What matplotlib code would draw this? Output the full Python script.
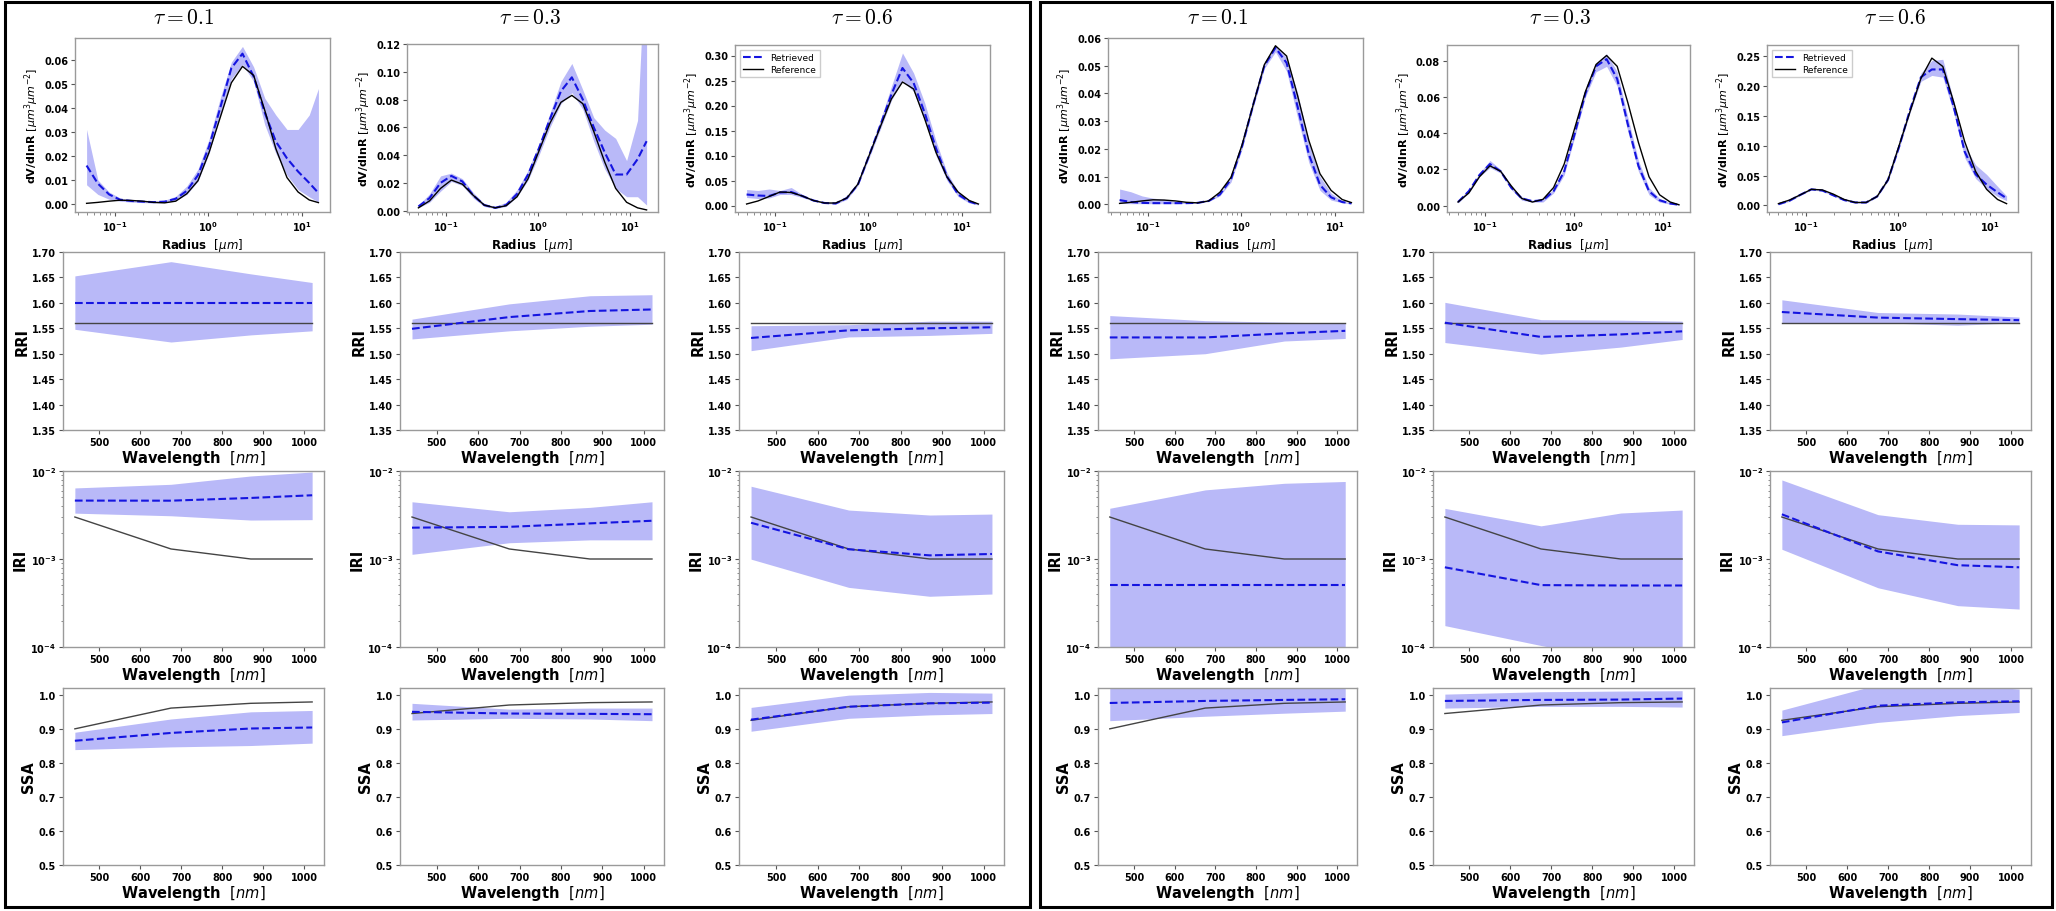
import matplotlib
matplotlib.use('Agg')
import matplotlib.pyplot as plt
from matplotlib.ticker import MultipleLocator, FormatStrFormatter, FuncFormatter
from matplotlib.patches import Rectangle
import numpy as np

plt.rcParams['font.family'] = ['DejaVu Sans']
plt.rcParams['mathtext.fontset'] = 'custom'
plt.rcParams['mathtext.rm'] = 'DejaVu Sans:weight=normal'
plt.rcParams['mathtext.it'] = 'DejaVu Sans:style=italic:weight=normal'
plt.rcParams['mathtext.bf'] = 'DejaVu Sans:weight=bold'

W, H = 2056, 912

# ---------------- data ----------------
radius = [0.050, 0.066, 0.087, 0.114, 0.150, 0.197, 0.259, 0.341, 0.448, 0.589, 0.775,
          1.019, 1.340, 1.762, 2.316, 3.046, 4.004, 5.265, 6.922, 9.101, 11.966, 15.000]
wavelength = [440, 675, 870, 1020]
tau_labels = ['0.1', '0.3', '0.6']

# reference size distributions
ref_psd_t01 = [0.0003, 0.0007, 0.0012, 0.0016, 0.0015, 0.0012, 0.0007, 0.0005, 0.0012, 0.0043, 0.0097,
               0.0215, 0.036, 0.0504, 0.0572, 0.0535, 0.039, 0.023, 0.011, 0.005, 0.0017, 0.0006]
ref_psd_t03 = [0.002, 0.007, 0.016, 0.022, 0.019, 0.011, 0.004, 0.002, 0.0035, 0.010, 0.023,
               0.043, 0.063, 0.078, 0.083, 0.077, 0.057, 0.035, 0.016, 0.006, 0.002, 0.0005]
ref_psd_t06 = [0.003, 0.009, 0.018, 0.027, 0.026, 0.019, 0.010, 0.005, 0.005, 0.015, 0.043,
               0.100, 0.157, 0.213, 0.247, 0.233, 0.173, 0.107, 0.057, 0.027, 0.010, 0.003]

# left block retrieved size distributions
psd_ret_L1 = [0.016, 0.0085, 0.004, 0.0018, 0.0013, 0.0010, 0.0008, 0.0010, 0.0022, 0.0055, 0.012,
              0.024, 0.040, 0.0565, 0.0625, 0.053, 0.038, 0.026, 0.019, 0.0135, 0.0088, 0.0046]
psd_hi_L1 = [0.031, 0.010, 0.005, 0.0025, 0.0018, 0.0014, 0.0012, 0.0016, 0.0032, 0.0075, 0.0145,
             0.027, 0.044, 0.059, 0.0655, 0.057, 0.044, 0.037, 0.031, 0.031, 0.037, 0.048]
psd_lo_L1 = [0.008, 0.004, 0.002, 0.0012, 0.0008, 0.0006, 0.0005, 0.0006, 0.0014, 0.004, 0.0095,
             0.021, 0.037, 0.052, 0.058, 0.051, 0.033, 0.021, 0.012, 0.006, 0.003, 0.0008]

psd_ret_L3 = [0.003, 0.009, 0.020, 0.025, 0.021, 0.011, 0.004, 0.002, 0.004, 0.012, 0.026,
              0.045, 0.066, 0.086, 0.096, 0.080, 0.060, 0.042, 0.026, 0.026, 0.037, 0.050]
psd_hi_L3 = [0.004, 0.012, 0.025, 0.027, 0.023, 0.013, 0.005, 0.003, 0.006, 0.015, 0.029,
             0.048, 0.070, 0.093, 0.106, 0.087, 0.067, 0.058, 0.052, 0.036, 0.065, 0.200]
psd_lo_L3 = [0.002, 0.006, 0.014, 0.021, 0.018, 0.009, 0.003, 0.0015, 0.003, 0.010, 0.022,
             0.040, 0.060, 0.077, 0.085, 0.073, 0.050, 0.030, 0.016, 0.010, 0.010, 0.004]

psd_ret_L6 = [0.022, 0.020, 0.019, 0.026, 0.027, 0.019, 0.010, 0.005, 0.004, 0.015, 0.042,
              0.100, 0.160, 0.222, 0.275, 0.245, 0.185, 0.115, 0.058, 0.022, 0.008, 0.002]
psd_hi_L6 = [0.032, 0.030, 0.033, 0.030, 0.036, 0.022, 0.012, 0.006, 0.006, 0.018, 0.046,
             0.105, 0.170, 0.238, 0.305, 0.265, 0.205, 0.130, 0.066, 0.028, 0.011, 0.003]
psd_lo_L6 = [0.016, 0.014, 0.015, 0.022, 0.022, 0.016, 0.009, 0.004, 0.003, 0.012, 0.040,
             0.095, 0.152, 0.210, 0.250, 0.228, 0.170, 0.100, 0.050, 0.018, 0.005, 0.001]

# right block retrieved size distributions
psd_ret_R1 = [0.0015, 0.0008, 0.0005, 0.0004, 0.0004, 0.0004, 0.0004, 0.0005, 0.0012, 0.0035, 0.009,
              0.021, 0.036, 0.050, 0.0565, 0.051, 0.035, 0.018, 0.007, 0.0025, 0.0008, 0.0003]
psd_hi_R1 = [0.0055, 0.0045, 0.003, 0.0022, 0.0018, 0.0010, 0.0006, 0.0007, 0.0014, 0.004, 0.0095,
             0.022, 0.037, 0.051, 0.057, 0.053, 0.040, 0.022, 0.010, 0.004, 0.0012, 0.0004]
psd_lo_R1 = [0.0003, 0.0002, 0.0002, 0.0002, 0.0002, 0.0002, 0.0003, 0.0004, 0.0010, 0.003, 0.008,
             0.020, 0.035, 0.049, 0.055, 0.048, 0.031, 0.015, 0.005, 0.0015, 0.0005, 0.0002]

psd_ret_R3 = [0.002, 0.008, 0.017, 0.023, 0.019, 0.010, 0.004, 0.0025, 0.003, 0.008, 0.019,
              0.040, 0.062, 0.077, 0.081, 0.070, 0.045, 0.022, 0.008, 0.003, 0.0012, 0.0005]
psd_hi_R3 = [0.003, 0.009, 0.018, 0.025, 0.020, 0.011, 0.005, 0.003, 0.004, 0.009, 0.021,
             0.042, 0.064, 0.079, 0.084, 0.074, 0.049, 0.025, 0.010, 0.004, 0.0015, 0.0007]
psd_lo_R3 = [0.0015, 0.007, 0.016, 0.021, 0.018, 0.009, 0.003, 0.002, 0.002, 0.007, 0.017,
             0.038, 0.060, 0.074, 0.077, 0.066, 0.041, 0.019, 0.006, 0.002, 0.0008, 0.0003]

psd_ret_R6 = [0.002, 0.008, 0.018, 0.027, 0.025, 0.017, 0.009, 0.005, 0.005, 0.015, 0.043,
              0.098, 0.160, 0.215, 0.228, 0.228, 0.165, 0.090, 0.052, 0.035, 0.022, 0.012]
psd_hi_R6 = [0.003, 0.009, 0.019, 0.028, 0.026, 0.018, 0.010, 0.006, 0.006, 0.016, 0.045,
             0.101, 0.165, 0.222, 0.243, 0.245, 0.175, 0.100, 0.068, 0.052, 0.032, 0.016]
psd_lo_R6 = [0.001, 0.007, 0.017, 0.026, 0.024, 0.016, 0.008, 0.004, 0.004, 0.014, 0.041,
             0.095, 0.155, 0.208, 0.218, 0.215, 0.155, 0.080, 0.045, 0.028, 0.015, 0.008]

# reference optical properties
ref_rri = [1.56, 1.56, 1.56, 1.56]
ref_iri = [0.003, 0.0013, 0.001, 0.001]
ref_ssa_t01 = [0.900, 0.961, 0.975, 0.979]
ref_ssa_t03 = [0.945, 0.970, 0.977, 0.979]
ref_ssa_t06 = [0.925, 0.965, 0.975, 0.979]

# RRI retrieved
rri_ret_L1 = [1.600, 1.600, 1.600, 1.600]
rri_hi_L1 = [1.653, 1.681, 1.657, 1.640]
rri_lo_L1 = [1.548, 1.523, 1.537, 1.545]
rri_ret_L3 = [1.549, 1.572, 1.584, 1.587]
rri_hi_L3 = [1.568, 1.598, 1.614, 1.616]
rri_lo_L3 = [1.529, 1.545, 1.554, 1.558]
rri_ret_L6 = [1.531, 1.546, 1.550, 1.552]
rri_hi_L6 = [1.555, 1.557, 1.564, 1.564]
rri_lo_L6 = [1.506, 1.533, 1.536, 1.540]
rri_ret_R1 = [1.532, 1.532, 1.540, 1.545]
rri_hi_R1 = [1.575, 1.565, 1.562, 1.560]
rri_lo_R1 = [1.490, 1.500, 1.525, 1.530]
rri_ret_R3 = [1.561, 1.533, 1.538, 1.544]
rri_hi_R3 = [1.601, 1.567, 1.566, 1.564]
rri_lo_R3 = [1.522, 1.499, 1.513, 1.528]
rri_ret_R6 = [1.582, 1.571, 1.568, 1.566]
rri_hi_R6 = [1.606, 1.581, 1.578, 1.572]
rri_lo_R6 = [1.561, 1.561, 1.556, 1.561]

# IRI retrieved
iri_ret_L1 = [0.00461, 0.00460, 0.00494, 0.00530]
iri_hi_L1 = [0.00642, 0.00706, 0.00878, 0.00974]
iri_lo_L1 = [0.00332, 0.00310, 0.00277, 0.00280]
iri_ret_L3 = [0.00227, 0.00232, 0.00254, 0.00272]
iri_hi_L3 = [0.00447, 0.00344, 0.00386, 0.00447]
iri_lo_L3 = [0.00113, 0.00153, 0.00165, 0.00165]
iri_ret_L6 = [0.00258, 0.00129, 0.00110, 0.00114]
iri_hi_L6 = [0.00671, 0.00360, 0.00316, 0.00324]
iri_lo_L6 = [0.000996, 0.000476, 0.000377, 0.000400]
iri_ret_R1 = [0.0005, 0.0005, 0.0005, 0.0005]
iri_hi_R1 = [0.00377, 0.00610, 0.00725, 0.00760]
iri_lo_R1 = [0.00001, 0.00001, 0.00001, 0.00001]
iri_ret_R3 = [0.000805, 0.000505, 0.000500, 0.000500]
iri_hi_R3 = [0.00376, 0.00238, 0.00333, 0.00360]
iri_lo_R3 = [0.000175, 0.000104, 0.000070, 0.000050]
iri_ret_R6 = [0.00322, 0.00122, 0.00085, 0.000805]
iri_hi_R6 = [0.00791, 0.00319, 0.00248, 0.00244]
iri_lo_R6 = [0.00129, 0.000471, 0.000295, 0.000270]

# SSA retrieved
ssa_ret_L1 = [0.865, 0.888, 0.901, 0.904]
ssa_hi_L1 = [0.890, 0.929, 0.950, 0.954]
ssa_lo_L1 = [0.839, 0.847, 0.851, 0.858]
ssa_ret_L3 = [0.950, 0.945, 0.944, 0.943]
ssa_hi_L3 = [0.975, 0.958, 0.961, 0.961]
ssa_lo_L3 = [0.926, 0.931, 0.929, 0.924]
ssa_ret_L6 = [0.927, 0.965, 0.975, 0.977]
ssa_hi_L6 = [0.963, 0.999, 1.007, 1.005]
ssa_lo_L6 = [0.893, 0.931, 0.941, 0.945]
ssa_ret_R1 = [0.976, 0.982, 0.985, 0.987]
ssa_hi_R1 = [1.050, 1.050, 1.050, 1.050]
ssa_lo_R1 = [0.924, 0.937, 0.946, 0.952]
ssa_ret_R3 = [0.982, 0.985, 0.986, 0.989]
ssa_hi_R3 = [1.002, 1.009, 1.011, 1.012]
ssa_lo_R3 = [0.961, 0.966, 0.966, 0.964]
ssa_ret_R6 = [0.919, 0.968, 0.978, 0.981]
ssa_hi_R6 = [0.955, 1.030, 1.030, 1.017]
ssa_lo_R6 = [0.880, 0.919, 0.939, 0.948]

# ---------------- layout (pixels) ----------------
top_boxes = {
    'L': [(75, 39, 330, 213), (407, 45, 658, 213), (735, 46, 990, 213)],
    'R': [(1108, 39, 1363, 213), (1447, 46, 1690, 213), (1767, 46, 2018, 213)],
}
col_x = {
    'L': [(63, 324), (400, 664), (739, 1004)],
    'R': [(1098, 1357), (1433, 1694), (1770, 2031)],
}
row_y = {'RRI': (253, 431), 'IRI': (472, 648), 'SSA': (689, 866)}
title_x = {'L': [184, 530, 862], 'R': [1218, 1560, 1895]}
psd_ylims = {'L': [(-0.0033, 0.069), (-0.001, 0.12), (-0.013, 0.321)],
             'R': [(-0.0028, 0.060), (-0.0035, 0.0888), (-0.011, 0.269)]}
psd_ystep = {'L': [0.01, 0.02, 0.05], 'R': [0.01, 0.02, 0.05]}

BLUE = '#1515e0'
FILL = '#b9b9f8'
SPINE = '#9a9a9a'
TICK_FS = 7


def rect(x0, y0, x1, y1):
    return [x0 / W, 1 - y1 / H, (x1 - x0) / W, (y1 - y0) / H]


def style(ax):
    for s in ax.spines.values():
        s.set_color(SPINE)
        s.set_linewidth(1.0)
    ax.tick_params(which='major', labelsize=TICK_FS, length=3, width=0.8, color='#555555', pad=2)
    ax.tick_params(which='minor', length=1.8, width=0.6, color='#777777')


logfmt = FuncFormatter(lambda v, p: r'$\mathbf{10^{%d}}$' % int(round(np.log10(v))))

fig = plt.figure(figsize=(W / 100, H / 100), dpi=100)

psd_sets = {
    'L': [(psd_ret_L1, psd_lo_L1, psd_hi_L1, ref_psd_t01),
          (psd_ret_L3, psd_lo_L3, psd_hi_L3, ref_psd_t03),
          (psd_ret_L6, psd_lo_L6, psd_hi_L6, ref_psd_t06)],
    'R': [(psd_ret_R1, psd_lo_R1, psd_hi_R1, ref_psd_t01),
          (psd_ret_R3, psd_lo_R3, psd_hi_R3, ref_psd_t03),
          (psd_ret_R6, psd_lo_R6, psd_hi_R6, ref_psd_t06)],
}
rri_sets = {
    'L': [(rri_ret_L1, rri_lo_L1, rri_hi_L1), (rri_ret_L3, rri_lo_L3, rri_hi_L3), (rri_ret_L6, rri_lo_L6, rri_hi_L6)],
    'R': [(rri_ret_R1, rri_lo_R1, rri_hi_R1), (rri_ret_R3, rri_lo_R3, rri_hi_R3), (rri_ret_R6, rri_lo_R6, rri_hi_R6)],
}
iri_sets = {
    'L': [(iri_ret_L1, iri_lo_L1, iri_hi_L1), (iri_ret_L3, iri_lo_L3, iri_hi_L3), (iri_ret_L6, iri_lo_L6, iri_hi_L6)],
    'R': [(iri_ret_R1, iri_lo_R1, iri_hi_R1), (iri_ret_R3, iri_lo_R3, iri_hi_R3), (iri_ret_R6, iri_lo_R6, iri_hi_R6)],
}
ssa_sets = {
    'L': [(ssa_ret_L1, ssa_lo_L1, ssa_hi_L1), (ssa_ret_L3, ssa_lo_L3, ssa_hi_L3), (ssa_ret_L6, ssa_lo_L6, ssa_hi_L6)],
    'R': [(ssa_ret_R1, ssa_lo_R1, ssa_hi_R1), (ssa_ret_R3, ssa_lo_R3, ssa_hi_R3), (ssa_ret_R6, ssa_lo_R6, ssa_hi_R6)],
}
ssa_refs = [ref_ssa_t01, ref_ssa_t03, ref_ssa_t06]

all_axes = []
for blk in ['L', 'R']:
    for c in range(3):
        # title
        fig.text(title_x[blk][c] / W, 1 - 18 / H, r'$\tau = \mathbf{%s}$' % tau_labels[c],
                 math_fontfamily='cm', fontsize=15.5, ha='center', va='center')

        # size distribution
        ret, lo, hi, ref = psd_sets[blk][c]
        ax = fig.add_axes(rect(*top_boxes[blk][c]))
        all_axes.append(ax)
        ax.fill_between(radius, lo, hi, color=FILL, lw=0)
        ax.plot(radius, ret, '--', color=BLUE, lw=1.5, label='Retrieved')
        ax.plot(radius, ref, '-', color='black', lw=1.0, label='Reference')
        ax.set_xscale('log')
        ax.set_ylim(*psd_ylims[blk][c])
        ax.yaxis.set_major_locator(MultipleLocator(psd_ystep[blk][c]))
        ax.yaxis.set_major_formatter(FormatStrFormatter('%.2f'))
        ax.xaxis.set_major_formatter(logfmt)
        style(ax)
        ax.set_xlabel(r'Radius  $[\mu m]$', fontsize=8.5, fontweight='bold', labelpad=2)
        ax.set_ylabel(r'dV/dlnR $[\mu m^3\mu m^{-2}]$', fontsize=8, fontweight='bold', labelpad=2)
        if c == 2:
            ax.legend(loc='upper left', prop={'size': 6.5, 'weight': 'normal'},
                      framealpha=1, edgecolor='#cccccc', fancybox=False,
                      handlelength=2.2, borderpad=0.4, labelspacing=0.3)

        x0, x1 = col_x[blk][c]
        # RRI
        ret, lo, hi = rri_sets[blk][c]
        y0, y1 = row_y['RRI']
        ax = fig.add_axes(rect(x0, y0, x1, y1))
        all_axes.append(ax)
        ax.fill_between(wavelength, lo, hi, color=FILL, lw=0)
        ax.plot(wavelength, ref_rri, '-', color='#444444', lw=1.0)
        ax.plot(wavelength, ret, '--', color=BLUE, lw=1.5)
        ax.set_ylim(1.35, 1.70)
        ax.yaxis.set_major_locator(MultipleLocator(0.05))
        ax.yaxis.set_major_formatter(FormatStrFormatter('%.2f'))
        ax.xaxis.set_major_locator(MultipleLocator(100))
        style(ax)
        ax.set_xlabel(r'Wavelength  $[nm]$', fontsize=10.5, fontweight='bold', labelpad=1)
        ax.set_ylabel('RRI', fontsize=10.5, fontweight='bold', labelpad=2)

        # IRI
        ret, lo, hi = iri_sets[blk][c]
        y0, y1 = row_y['IRI']
        ax = fig.add_axes(rect(x0, y0, x1, y1))
        all_axes.append(ax)
        ax.fill_between(wavelength, lo, hi, color=FILL, lw=0)
        ax.plot(wavelength, ref_iri, '-', color='#444444', lw=1.0)
        ax.plot(wavelength, ret, '--', color=BLUE, lw=1.5)
        ax.set_yscale('log')
        ax.set_ylim(1e-4, 1e-2)
        ax.yaxis.set_major_formatter(logfmt)
        ax.xaxis.set_major_locator(MultipleLocator(100))
        ax.set_xlim(411, 1049)
        style(ax)
        ax.set_xlabel(r'Wavelength  $[nm]$', fontsize=10.5, fontweight='bold', labelpad=1)
        ax.set_ylabel('IRI', fontsize=10.5, fontweight='bold', labelpad=2)

        # SSA
        ret, lo, hi = ssa_sets[blk][c]
        y0, y1 = row_y['SSA']
        ax = fig.add_axes(rect(x0, y0, x1, y1))
        all_axes.append(ax)
        ax.fill_between(wavelength, lo, hi, color=FILL, lw=0)
        ax.plot(wavelength, ssa_refs[c], '-', color='#444444', lw=1.0)
        ax.plot(wavelength, ret, '--', color=BLUE, lw=1.5)
        ax.set_ylim(0.5, 1.02)
        ax.yaxis.set_major_locator(MultipleLocator(0.1))
        ax.yaxis.set_major_formatter(FormatStrFormatter('%.1f'))
        ax.xaxis.set_major_locator(MultipleLocator(100))
        ax.set_xlim(411, 1049)
        style(ax)
        ax.set_xlabel(r'Wavelength  $[nm]$', fontsize=10.5, fontweight='bold', labelpad=1)
        ax.set_ylabel('SSA', fontsize=10.5, fontweight='bold', labelpad=2)

# block frames
for (bx0, by0, bx1, by1) in [(5, 3, 1030, 908), (1040, 3, 2052, 908)]:
    fig.add_artist(Rectangle((bx0 / W, 1 - by1 / H), (bx1 - bx0) / W, (by1 - by0) / H,
                             transform=fig.transFigure, fill=False, edgecolor='black', lw=2.2))

# make tick labels bold (ticks exist after a first draw)
fig.canvas.draw()
for ax in all_axes:
    for t in ax.get_xticklabels() + ax.get_yticklabels():
        t.set_fontweight('bold')

fig.savefig('out.png', dpi=100)
